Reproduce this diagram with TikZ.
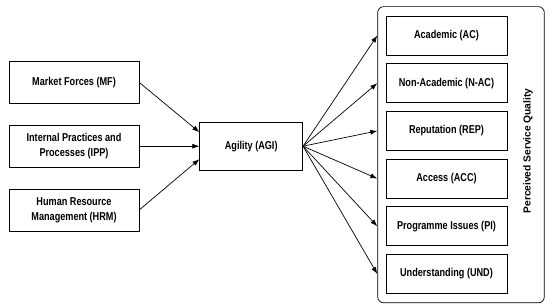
\documentclass[tikz,border=0pt]{standalone}
\usepackage{fontspec}
\setmainfont{Liberation Sans}[FakeStretch=0.8]
\newfontfamily\psqfont{Liberation Sans}
\usetikzlibrary{arrows.meta, positioning, fit, calc}

\begin{document}
\begin{tikzpicture}[
    x=1pt, y=1pt,
    font=\bfseries\fontsize{11.4}{15}\selectfont,
    driver/.style={rectangle, draw, line width=0.7pt, minimum width=130pt,
                   minimum height=42pt, align=center},
    dim/.style={rectangle, draw, line width=0.7pt, minimum width=121pt,
                minimum height=39pt, align=center},
    arr/.style={-{Latex[length=7pt, width=5pt]}, line width=0.7pt},
]
\useasboundingbox (0,0) rectangle (550,-304);

% Antecedents
\node[driver] (mf) at (74,-82.5) {Market Forces (MF)};
\node[driver, below=21pt of mf] (ipp) {Internal Practices and\\Processes (IPP)};
\node[driver, below=21pt of ipp] (hrm) {Human Resource\\Management (HRM)};

% Agility
\node[rectangle, draw, line width=0.7pt, minimum width=103pt, minimum height=48pt,
      right=60pt of ipp] (agi) {Agility (AGI)};

% Service quality dimensions
\node[dim] (ac) at (446.5,-35.5) {Academic (AC)};
\node[dim, below=8pt of ac] (nac) {Non-Academic (N-AC)};
\node[dim, below=8pt of nac] (rep) {Reputation (REP)};
\node[dim, below=8pt of rep] (acc) {Access (ACC)};
\node[dim, below=8pt of acc] (pi) {Programme Issues (PI)};
\node[dim, below=8pt of pi] (und) {Understanding (UND)};
\node[rotate=90, anchor=center, font=\psqfont\bfseries\fontsize{10.2}{12}\selectfont]
     (psq) at (528,-151) {Perceived Service Quality};
\node[draw, line width=0.7pt, rounded corners=6pt, inner xsep=8pt, inner ysep=9pt,
      fit=(ac)(und)(psq)] (pq) {};

% Connections
\draw[arr] (mf.east) -- ([yshift=14pt]agi.west);
\draw[arr] (ipp.east) -- (agi.west);
\draw[arr] (hrm.east) -- ([yshift=-13pt]agi.west);
\foreach \d in {ac, nac, rep, acc, pi, und}
    \draw[arr] (agi.east) -- (pq.west |- \d.west);

\end{tikzpicture}
\end{document}
